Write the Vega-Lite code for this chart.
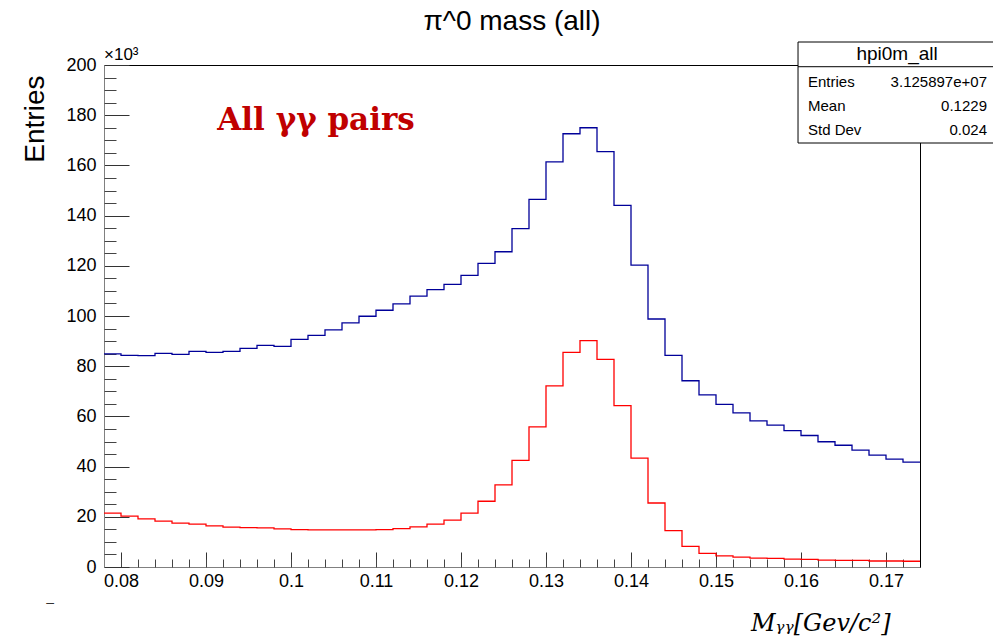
{
  "$schema": "https://vega.github.io/schema/vega-lite/v6.json",
  "width": 816,
  "height": 502,
  "autosize": "none",
  "padding": {"left": 104, "top": 65, "right": 73, "bottom": 72},
  "background": "white",
  "config": {
    "view": {"stroke": null},
    "font": "Liberation Sans",
    "axis": {"grid": false, "labelFont": "Liberation Sans", "titleFont": "Liberation Sans"}
  },
  "title": {
    "text": "π^0 mass (all)",
    "fontSize": 28,
    "font": "Liberation Sans",
    "fontWeight": "normal",
    "color": "#000000",
    "anchor": "middle",
    "frame": "group",
    "baseline": "alphabetic",
    "offset": 10,
    "dy": 26
  },
  "datasets": {
    "hist": [
      {"m": 0.078, "entries": 84900, "subset": 21500},
      {"m": 0.080, "entries": 84300, "subset": 20300},
      {"m": 0.082, "entries": 84200, "subset": 19200},
      {"m": 0.084, "entries": 85100, "subset": 18300},
      {"m": 0.086, "entries": 84700, "subset": 17500},
      {"m": 0.088, "entries": 85900, "subset": 17100},
      {"m": 0.090, "entries": 85500, "subset": 16400},
      {"m": 0.092, "entries": 85900, "subset": 15900},
      {"m": 0.094, "entries": 87100, "subset": 15700},
      {"m": 0.096, "entries": 88300, "subset": 15600},
      {"m": 0.098, "entries": 87900, "subset": 15200},
      {"m": 0.100, "entries": 90700, "subset": 14900},
      {"m": 0.102, "entries": 92300, "subset": 14800},
      {"m": 0.104, "entries": 94500, "subset": 14800},
      {"m": 0.106, "entries": 97300, "subset": 14800},
      {"m": 0.108, "entries": 99900, "subset": 14800},
      {"m": 0.110, "entries": 102300, "subset": 14900},
      {"m": 0.112, "entries": 104800, "subset": 15300},
      {"m": 0.114, "entries": 107900, "subset": 16000},
      {"m": 0.116, "entries": 110500, "subset": 17100},
      {"m": 0.118, "entries": 112600, "subset": 18700},
      {"m": 0.120, "entries": 116200, "subset": 21500},
      {"m": 0.122, "entries": 121000, "subset": 26200},
      {"m": 0.124, "entries": 125600, "subset": 32700},
      {"m": 0.126, "entries": 134800, "subset": 42500},
      {"m": 0.128, "entries": 146500, "subset": 55800},
      {"m": 0.130, "entries": 161400, "subset": 72200},
      {"m": 0.132, "entries": 172600, "subset": 85500},
      {"m": 0.134, "entries": 175000, "subset": 90200},
      {"m": 0.136, "entries": 165500, "subset": 82700},
      {"m": 0.138, "entries": 144100, "subset": 64300},
      {"m": 0.140, "entries": 120300, "subset": 43400},
      {"m": 0.142, "entries": 98800, "subset": 25500},
      {"m": 0.144, "entries": 84300, "subset": 14500},
      {"m": 0.146, "entries": 74200, "subset": 8200},
      {"m": 0.148, "entries": 68600, "subset": 5400},
      {"m": 0.150, "entries": 64800, "subset": 4400},
      {"m": 0.152, "entries": 61400, "subset": 3900},
      {"m": 0.154, "entries": 58200, "subset": 3500},
      {"m": 0.156, "entries": 56500, "subset": 3400},
      {"m": 0.158, "entries": 54300, "subset": 3100},
      {"m": 0.160, "entries": 52400, "subset": 3000},
      {"m": 0.162, "entries": 49900, "subset": 2700},
      {"m": 0.164, "entries": 48500, "subset": 2600},
      {"m": 0.166, "entries": 46600, "subset": 2600},
      {"m": 0.168, "entries": 44600, "subset": 2400},
      {"m": 0.170, "entries": 43000, "subset": 2400},
      {"m": 0.172, "entries": 41800, "subset": 2300},
      {"m": 0.174, "entries": 41800, "subset": 2300}
    ],
    "stats": [
      {"name": "hpi0m_all", "labels": ["Entries", "Mean", "Std Dev"], "vals": ["3.125897e+07", "0.1229", "0.024"]}
    ],
    "note": [{"t": "All γγ pairs"}],
    "mult": [{"t": "×10³"}],
    "dash": [{"t": "–"}]
  },
  "resolve": {"axis": {"x": "independent", "y": "independent"}},
  "layer": [
    {
      "data": {"name": "hist"},
      "mark": {"type": "line", "interpolate": "step-after", "color": "#000099", "strokeWidth": 1.3},
      "encoding": {
        "x": {
          "field": "m", "type": "quantitative",
          "scale": {"domain": [0.078, 0.174], "nice": false, "zero": false},
          "axis": {
            "orient": "bottom",
            "values": [0.08, 0.09, 0.1, 0.11, 0.12, 0.13, 0.14, 0.15, 0.16, 0.17],
            "tickSize": -15, "tickColor": "#333333", "tickWidth": 1,
            "domainColor": "#808080", "domainWidth": 1,
            "labelExpr": "format(datum.value, '~g')",
            "labelFontSize": 18, "labelColor": "#000000", "labelPadding": 20,
            "labelFlush": false, "labelOverlap": false,
            "title": "Mᵧᵧ[Gev/c²]",
            "titleFont": "DejaVu Serif", "titleFontStyle": "italic", "titleFontWeight": "normal",
            "titleFontSize": 24, "titleColor": "#000000",
            "titleAlign": "right", "titleBaseline": "alphabetic", "titleX": 786, "titleY": 63
          }
        },
        "y": {
          "field": "entries", "type": "quantitative",
          "scale": {"domain": [0, 200000], "nice": false, "zero": true},
          "axis": {
            "orient": "left",
            "values": [0, 20000, 40000, 60000, 80000, 100000, 120000, 140000, 160000, 180000, 200000],
            "tickSize": -25, "tickColor": "#333333", "tickWidth": 1,
            "domainColor": "#808080", "domainWidth": 1,
            "labelExpr": "format(datum.value / 1000, 'd')",
            "labelFontSize": 18, "labelColor": "#000000", "labelPadding": 33,
            "labelFlush": false, "labelOverlap": false,
            "title": "Entries",
            "titleFontSize": 28, "titleFontWeight": "normal", "titleColor": "#000000",
            "titleAlign": "right", "titleBaseline": "alphabetic", "titleX": -61, "titleY": 10
          }
        }
      }
    },
    {
      "data": {"name": "hist"},
      "mark": {"type": "line", "interpolate": "step-after", "color": "#ff0000", "strokeWidth": 1.3},
      "encoding": {
        "x": {
          "field": "m", "type": "quantitative",
          "scale": {"domain": [0.078, 0.174], "nice": false, "zero": false},
          "axis": {
            "orient": "bottom",
            "values": [0.078, 0.08, 0.082, 0.084, 0.086, 0.088, 0.09, 0.092, 0.094, 0.096, 0.098, 0.1, 0.102, 0.104, 0.106, 0.108, 0.11, 0.112, 0.114, 0.116, 0.118, 0.12, 0.122, 0.124, 0.126, 0.128, 0.13, 0.132, 0.134, 0.136, 0.138, 0.14, 0.142, 0.144, 0.146, 0.148, 0.15, 0.152, 0.154, 0.156, 0.158, 0.16, 0.162, 0.164, 0.166, 0.168, 0.17, 0.172, 0.174],
            "tickSize": -8, "tickColor": "#444444", "tickWidth": 1,
            "domain": false, "labels": false, "title": null
          }
        },
        "y": {
          "field": "subset", "type": "quantitative",
          "scale": {"domain": [0, 200000], "nice": false, "zero": true},
          "axis": {
            "orient": "left",
            "values": [5000, 10000, 15000, 25000, 30000, 35000, 45000, 50000, 55000, 65000, 70000, 75000, 85000, 90000, 95000, 105000, 110000, 115000, 125000, 130000, 135000, 145000, 150000, 155000, 165000, 170000, 175000, 185000, 190000, 195000],
            "tickSize": -12, "tickColor": "#444444", "tickWidth": 1,
            "domain": false, "labels": false, "title": null
          }
        }
      }
    },
    {
      "data": {"name": "stats"},
      "mark": {"type": "rect", "fill": "white", "stroke": "black", "strokeWidth": 1},
      "encoding": {
        "x": {"datum": 0.15965, "type": "quantitative",
          "axis": {"orient": "top", "domain": true, "domainColor": "#000000", "domainWidth": 1, "ticks": false, "labels": false, "title": null}},
        "x2": {"datum": 0.1834},
        "y": {"datum": 209160, "type": "quantitative",
          "axis": {"orient": "right", "domain": true, "domainColor": "#000000", "domainWidth": 1, "ticks": false, "labels": false, "title": null}},
        "y2": {"datum": 168920}
      }
    },
    {
      "data": {"name": "stats"},
      "mark": {"type": "rule", "color": "black", "strokeWidth": 1},
      "encoding": {
        "x": {"datum": 0.15965, "type": "quantitative", "axis": null},
        "x2": {"datum": 0.1834},
        "y": {"datum": 199320, "type": "quantitative", "axis": null}
      }
    },
    {
      "data": {"name": "stats"},
      "mark": {"type": "text", "fontSize": 19, "align": "center", "baseline": "middle", "color": "#000000", "font": "Liberation Sans"},
      "encoding": {
        "x": {"datum": 0.1713, "type": "quantitative", "axis": null},
        "y": {"datum": 204380, "type": "quantitative", "axis": null},
        "text": {"field": "name"}
      }
    },
    {
      "data": {"name": "stats"},
      "mark": {"type": "text", "fontSize": 15, "align": "left", "baseline": "middle", "lineHeight": 24, "color": "#000000", "font": "Liberation Sans"},
      "encoding": {
        "x": {"datum": 0.16082, "type": "quantitative", "axis": null},
        "y": {"datum": 193350, "type": "quantitative", "axis": null},
        "text": {"field": "labels"}
      }
    },
    {
      "data": {"name": "stats"},
      "mark": {"type": "text", "fontSize": 15, "align": "right", "baseline": "middle", "lineHeight": 24, "color": "#000000", "font": "Liberation Sans"},
      "encoding": {
        "x": {"datum": 0.18188, "type": "quantitative", "axis": null},
        "y": {"datum": 193350, "type": "quantitative", "axis": null},
        "text": {"field": "vals"}
      }
    },
    {
      "data": {"name": "note"},
      "mark": {"type": "text", "fontSize": 31, "font": "DejaVu Serif", "fontWeight": "bold", "color": "#C00000", "align": "center", "baseline": "middle"},
      "encoding": {
        "x": {"datum": 0.10294, "type": "quantitative", "axis": null},
        "y": {"datum": 177700, "type": "quantitative", "axis": null},
        "text": {"field": "t"}
      }
    },
    {
      "data": {"name": "mult"},
      "mark": {"type": "text", "fontSize": 17, "font": "Liberation Sans", "color": "#000000", "align": "left", "baseline": "bottom", "dy": -1},
      "encoding": {
        "x": {"datum": 0.078, "type": "quantitative", "axis": null},
        "y": {"datum": 200000, "type": "quantitative", "axis": null},
        "text": {"field": "t"}
      }
    },
    {
      "data": {"name": "dash"},
      "mark": {"type": "text", "fontSize": 14, "font": "Liberation Sans", "color": "#333333", "align": "center", "baseline": "middle"},
      "encoding": {
        "x": {"datum": 0.07165, "type": "quantitative", "axis": null},
        "y": {"datum": -14300, "type": "quantitative", "axis": null},
        "text": {"field": "t"}
      }
    }
  ]
}
